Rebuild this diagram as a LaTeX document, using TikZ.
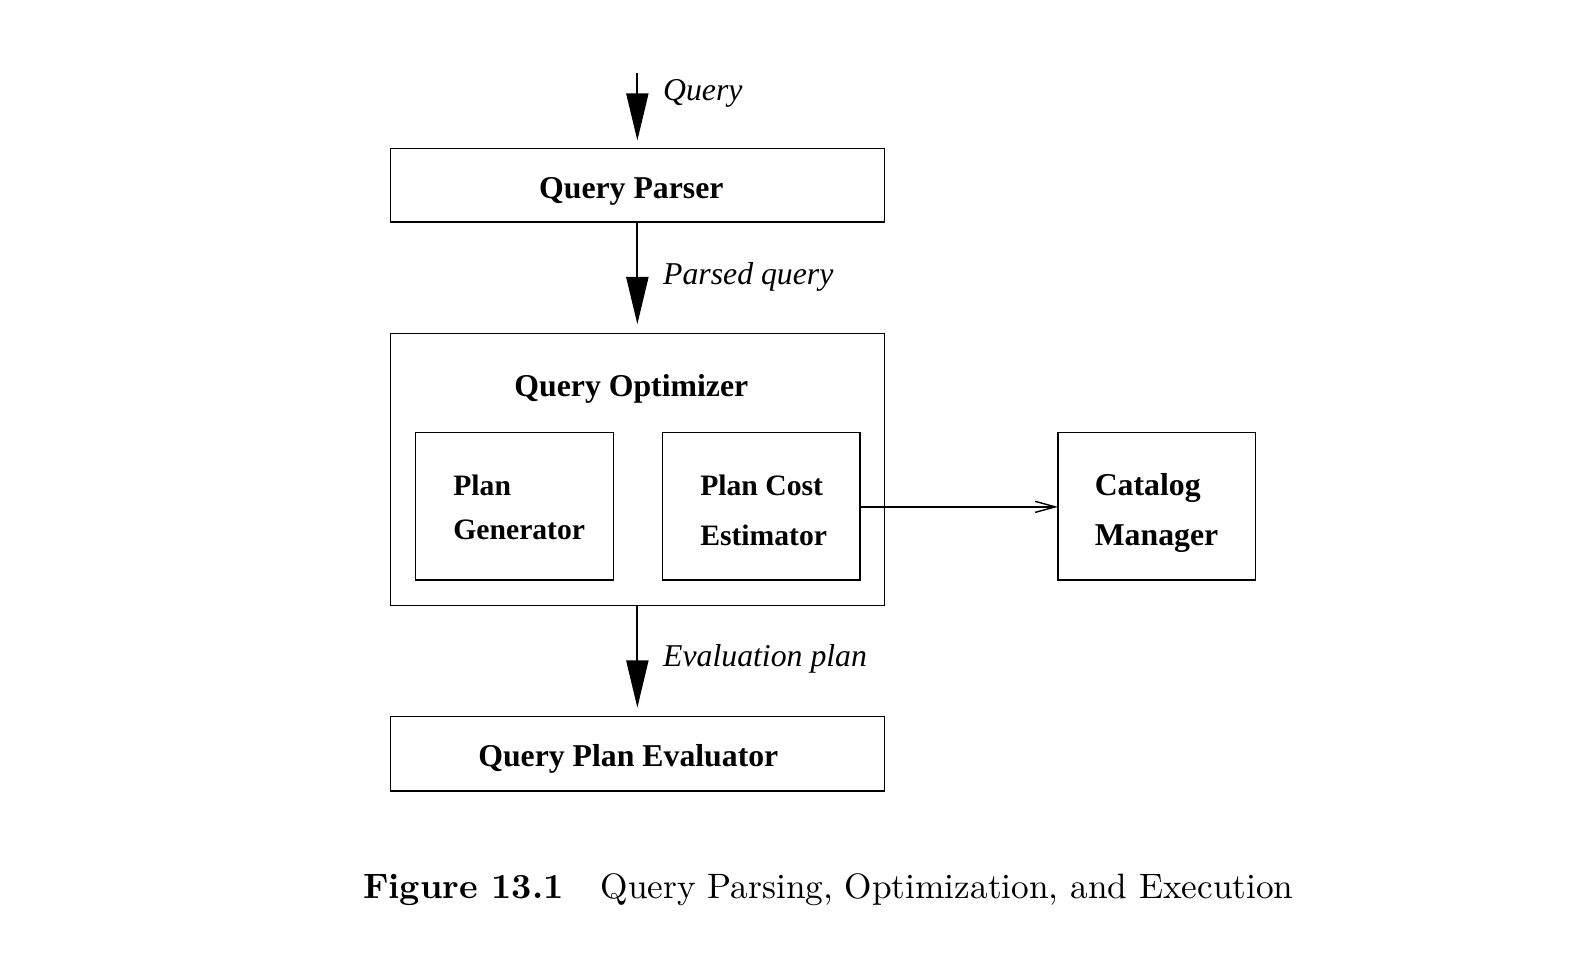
\documentclass[tikz,border=0pt]{standalone}
\usepackage{fontspec}
\newfontfamily\tms{Liberation Serif}
\usetikzlibrary{arrows.meta}
\begin{document}
\begin{tikzpicture}[x=0.01cm,y=-0.01cm,
  box/.style={draw,line width=0.4pt},
  lbl/.style={font=\tms\fontsize{9}{11}\selectfont\bfseries,inner sep=0pt,anchor=base},
  lbll/.style={font=\tms\fontsize{9}{11}\selectfont\bfseries,inner sep=0pt,anchor=base west},
  lbls/.style={font=\tms\fontsize{8.4}{10}\selectfont\bfseries,inner sep=0pt,anchor=base west},
  ital/.style={font=\tms\fontsize{9}{11}\selectfont\itshape,inner sep=0pt,anchor=base west},
  bigarrow/.style={line width=0.5pt,-{Triangle[width=0.22cm,length=0.47cm]}},
  thinarrow/.style={line width=0.4pt,-{Straight Barb[width=0.11cm,length=0.2cm]}}]
\useasboundingbox (0,0) rectangle (1568.2,966.4);
% boxes
\draw[box] (389,148) rectangle (881,221);
\coordinate (parserT) at (635,148);
\coordinate (parserB) at (635,221);
\draw[box] (389,332) rectangle (881,603);
\coordinate (optT) at (635,332);
\coordinate (optB) at (635,603);
\draw[box] (414,431) rectangle (611,578);
\draw[box] (660,431) rectangle (857,578);
\coordinate (estR) at (857,505);
\draw[box] (1054,431) rectangle (1251,578);
\coordinate (catL) at (1054,505);
\draw[box] (389,714) rectangle (881,788);
\coordinate (evalT) at (635,714);
\coordinate (qtop) at (635,73);
% texts
\node[lbl] (t1) at (629,198) {Query Parser};
\node[lbl] (t2) at (629,395) {Query Optimizer};
\node[lbls] (t3) at (451,494) {Plan};
\node[lbls] (t4) at (451,538) {Generator};
\node[lbls] (t5) at (697,494) {Plan Cost};
\node[lbls] (t6) at (697,543) {Estimator};
\node[lbll] (t7) at (1090,494) {Catalog};
\node[lbll] (t8) at (1090,543) {Manager};
\node[lbl] (t9) at (626,764) {Query Plan Evaluator};
\node[ital] (l1) at (660,100) {Query};
\node[ital] (l2) at (660,283) {Parsed query};
\node[ital] (l3) at (660,664) {Evaluation plan};
% arrows
\draw[bigarrow] (qtop) -- ([yshift=0.08cm]parserT);
\draw[bigarrow] (parserB) -- ([yshift=0.09cm]optT);
\draw[bigarrow] (optB) -- ([yshift=0.09cm]evalT);
\draw[thinarrow] (estR) -- (catL);
% caption
\node[anchor=base west,inner sep=0pt,font=\fontsize{10}{12}\selectfont] (cap) at (361,895)
  {\textbf{Figure 13.1}\hspace{1.05em}Query Parsing, Optimization, and Execution};
\end{tikzpicture}
\end{document}
